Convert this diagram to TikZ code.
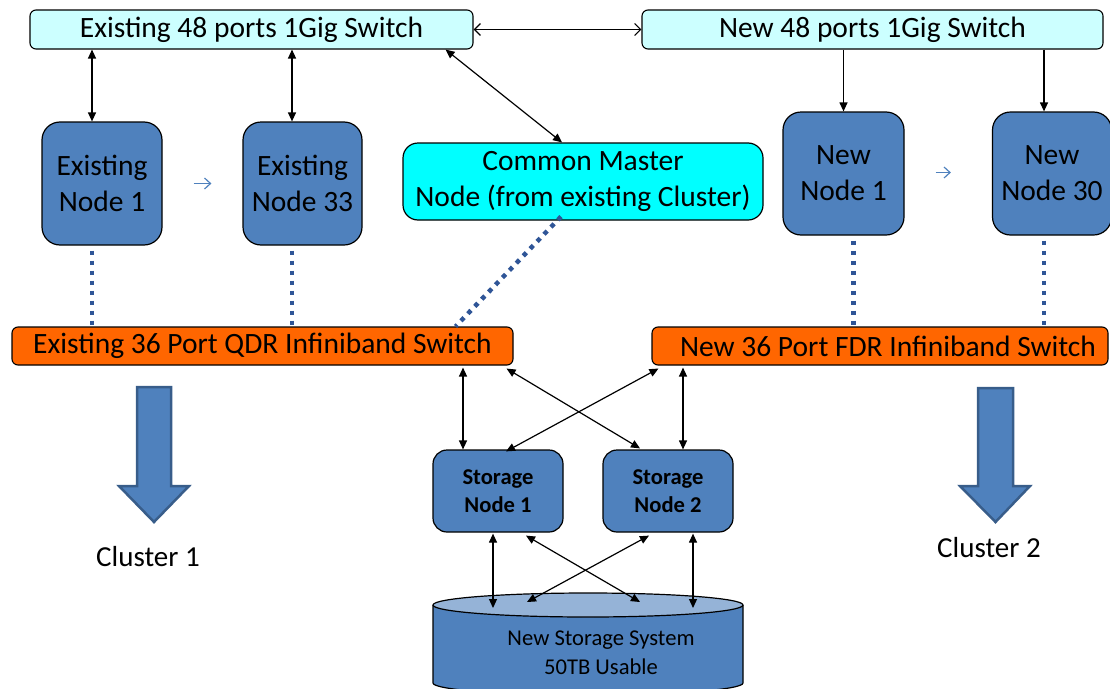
\documentclass[tikz,border=0pt]{standalone}
\usepackage{fontspec}
\setmainfont{Carlito}
\usetikzlibrary{arrows.meta,calc}
\definecolor{lcyan}{HTML}{CCFFFF}
\definecolor{mcyan}{HTML}{00FFFF}
\definecolor{nblue}{HTML}{4F81BD}
\definecolor{orng}{HTML}{FF6600}
\definecolor{dblue}{HTML}{2F5597}
\definecolor{aborder}{HTML}{385D8A}
\definecolor{ctop}{HTML}{95B3D7}
\tikzset{
  bigfont/.style={font=\fontsize{29.5}{36}\selectfont},
  swbox/.style={draw=black, fill=lcyan, rounded corners=6pt, line width=1.1pt, minimum height=39pt, inner sep=0pt, bigfont},
  cnode/.style={draw=black, fill=nblue, rounded corners=18pt, line width=1.2pt, minimum height=123pt, inner sep=0pt, align=center, bigfont},
  ibbox/.style={draw=black, fill=orng, rounded corners=6pt, line width=1.1pt, minimum height=38pt, inner sep=0pt, bigfont},
  snode/.style={draw=black, fill=nblue, rounded corners=14pt, line width=1.2pt, minimum width=130pt, minimum height=82pt, inner sep=0pt, align=center, font=\bfseries\fontsize{22.6}{28}\selectfont},
  link/.style={line width=1.2pt, {Triangle[length=9pt,width=8pt]}-{Triangle[length=9pt,width=8pt]}},
  onelink/.style={line width=1.2pt, -{Triangle[length=9pt,width=8pt]}},
  barb/.style={line width=1.2pt, {Straight Barb[length=6pt,width=12pt]}-{Straight Barb[length=6pt,width=12pt]}},
  smallarr/.style={draw=nblue, line width=1.2pt, -{Straight Barb[length=6pt,width=11pt]}},
  ibdot/.style={draw=dblue, line width=4.5pt, dash pattern=on 4.5pt off 5.5pt},
  bigarrow/.style={fill=nblue, draw=aborder, line width=2.5pt, line join=miter},
  clusterlabel/.style={font=\fontsize{29}{34}\selectfont, inner sep=0pt},
}
\begin{document}
\begin{tikzpicture}[x=1pt,y=-1pt]
\useasboundingbox (0,0) rectangle (1110,688);
\clip (0,0) rectangle (1110,688);

% switches
\node[swbox, minimum width=443pt] (esw) at (251.5,29.5) {Existing 48 ports 1Gig Switch};
\node[swbox, minimum width=461pt] (nsw) at (872.5,29.5) {New 48 ports 1Gig Switch};

% compute nodes
\node[cnode, minimum width=120pt] (en1) at (102,183.5) {Existing\\Node 1};
\node[cnode, minimum width=119pt] (en33) at (302.5,183.5) {Existing\\Node 33};
\node[draw=black, fill=mcyan, rounded corners=15pt, line width=1.2pt, minimum width=360pt, minimum height=77pt, inner sep=0pt, align=center, bigfont] (cm) at (583,181.5) {Common Master\\Node (from existing Cluster)};
\node[cnode, minimum width=121pt] (nn1) at (843.5,173.5) {New\\Node 1};
\node[cnode, minimum width=119pt] (nn30) at (1052,173.5) {New\\Node 30};

% infiniband switches
\node[ibbox, minimum width=501pt] (eib) at (262.5,346) {Existing 36 Port QDR Infiniband Switch};
\node[ibbox, minimum width=456pt] (nib) at (880,346) {\hspace*{16pt}New 36 Port FDR Infiniband Switch};

% storage nodes
\node[snode] (sn1) at (498,491) {Storage\\Node 1};
\node[snode] (sn2) at (668,491) {Storage\\Node 2};

% storage cylinder
\fill[nblue] (433,605) -- (433,683) arc[start angle=180, end angle=0, x radius=155, y radius=12] -- (743,605) -- cycle;
\draw[black, line width=1.2pt] (433,605) -- (433,683) arc[start angle=180, end angle=0, x radius=155, y radius=12] -- (743,605);
\draw[black, fill=ctop, line width=1.2pt] (588,605) ellipse [x radius=155, y radius=12];
\coordinate (stor) at (588,605);
\node[align=center, inner sep=0pt, font=\fontsize{22.6}{29}\selectfont] (stortext) at (601,652.5) {New Storage System\\50TB Usable};

% switch-to-switch
\draw[barb] (esw.east) -- (nsw.west);

% 1Gig links
\draw[link] ([xshift=-10pt]en1.north |- esw.south) -- ([xshift=-10pt]en1.north);
\draw[link] ([xshift=-10.5pt]en33.north |- esw.south) -- ([xshift=-10.5pt]en33.north);
\draw[link] ([xshift=-28pt]esw.south east) -- ([xshift=-21pt]cm.north);
\draw[onelink] (nn1.north |- nsw.south) -- (nn1.north);
\draw[onelink] ([xshift=-8pt]nn30.north |- nsw.south) -- ([xshift=-8pt]nn30.north);

% small arrows between nodes
\draw[smallarr] ([xshift=31pt]en1.east) -- ([xshift=-31pt]en33.west);
\draw[smallarr] ([xshift=31pt,yshift=1pt]nn1.east) -- ([xshift=-41pt,yshift=1pt]nn30.west);

% infiniband dotted links
\draw[ibdot] ([xshift=-10pt,yshift=-5pt]en1.south) -- ([xshift=-10pt]en1.south |- eib.north);
\draw[ibdot] ([xshift=-10.5pt,yshift=-5pt]en33.south) -- ([xshift=-10.5pt]en33.south |- eib.north);
\draw[ibdot] ([xshift=-22pt,yshift=4pt]cm.south) -- ([xshift=-58pt]eib.north east);
\draw[ibdot] ([xshift=10pt,yshift=-5pt]nn1.south) -- ([xshift=10pt]nn1.south |- nib.north);
\draw[ibdot] ([xshift=-8pt,yshift=-5pt]nn30.south) -- ([xshift=-8pt]nn30.south |- nib.north);

% infiniband to storage nodes
\draw[link] ([xshift=-35pt,yshift=-2pt]sn1.north |- eib.south) -- ([xshift=-35pt]sn1.north);
\draw[link] ([xshift=-7pt,yshift=-3pt]eib.south east) -- ([xshift=-28pt,yshift=1pt]sn2.north);
\draw[link] ([xshift=7pt,yshift=-3pt]nib.south west) -- ([xshift=8pt,yshift=-2pt]sn1.north);
\draw[link] ([xshift=15pt,yshift=-2pt]sn2.north |- nib.south) -- ([xshift=15pt]sn2.north);

% storage nodes to storage system
\draw[link] ([xshift=-5pt,yshift=-1pt]sn1.south) -- ([xshift=-95pt,yshift=-3pt]stor);
\draw[link] ([xshift=28pt,yshift=-3pt]sn1.south) -- ([xshift=52pt,yshift=3pt]stor);
\draw[link] ([xshift=-19pt,yshift=-3pt]sn2.south) -- ([xshift=-61pt,yshift=3pt]stor);
\draw[link] ([xshift=25pt,yshift=-1pt]sn2.south) -- ([xshift=105pt,yshift=-3pt]stor);

% cluster arrows
\draw[bigarrow] (137,387) -- (171,387) -- (171,486) -- (189,486) -- (154,522) -- (119,486) -- (137,486) -- cycle;
\node[clusterlabel] (c1) at (148,557) {Cluster 1};
\draw[bigarrow] (978,388) -- (1013,388) -- (1013,486) -- (1030,486) -- (995.5,522) -- (960,486) -- (978,486) -- cycle;
\node[clusterlabel] (c2) at (989,548) {Cluster 2};
\end{tikzpicture}
\end{document}
